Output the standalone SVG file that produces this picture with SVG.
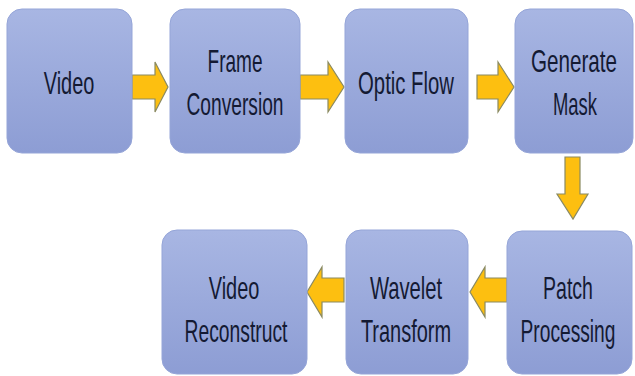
<svg xmlns="http://www.w3.org/2000/svg" width="635" height="376" viewBox="0 0 635 376">
<defs>
<linearGradient id="boxg" x1="0" y1="0" x2="0" y2="1">
<stop offset="0" stop-color="#a8b6e3"/>
<stop offset="1" stop-color="#8d9dd4"/>
</linearGradient>
<style>
.box{fill:url(#boxg);stroke:#95a5d8;stroke-width:1}
.lbl{font-family:"Liberation Sans",Arial,sans-serif;font-size:32px;fill:#141a33;text-anchor:middle}
.arr{fill:#fdbf10;stroke:#8a8a62;stroke-width:1.2;stroke-linejoin:miter}
</style>
</defs>
<rect width="635" height="376" fill="#ffffff"/>
<g id="connectors">
<polygon class="arr" points="132,75 155,75 155,62 168,87 155,112 155,99 132,99"/>
<polygon class="arr" points="300,75 328,75 328,62 344,87 328,112 328,99 300,99"/>
<polygon class="arr" points="477,75 498,75 498,62 514,87 498,112 498,99 477,99"/>
<polygon class="arr" points="565,157 580,157 580,194 588,194 573,219 557,194 565,194"/>
<polygon class="arr" points="507,278 485,278 485,267 470,292 485,317 485,302 507,302"/>
<polygon class="arr" points="344,278 322,278 322,267 307,292 322,317 322,302 344,302"/>
</g>
<g id="node-video">
<rect class="box" x="7" y="9" width="125" height="144" rx="15"/>
<text class="lbl" transform="translate(69,94) scale(0.623,1)">Video</text>
</g>
<g id="node-frame-conversion">
<rect class="box" x="170" y="9" width="130" height="144" rx="15"/>
<text class="lbl" transform="translate(235,72) scale(0.595,1)">Frame</text>
<text class="lbl" transform="translate(235,115) scale(0.6,1)">Conversion</text>
</g>
<g id="node-optic-flow">
<rect class="box" x="345" y="9" width="123" height="144" rx="15"/>
<text class="lbl" transform="translate(406,94) scale(0.635,1)">Optic Flow</text>
</g>
<g id="node-generate-mask">
<rect class="box" x="515" y="9" width="118" height="144" rx="15"/>
<text class="lbl" transform="translate(574,72) scale(0.645,1)">Generate</text>
<text class="lbl" transform="translate(575,115) scale(0.576,1)">Mask</text>
</g>
<g id="node-patch-processing">
<rect class="box" x="507" y="231" width="125" height="143" rx="15"/>
<text class="lbl" transform="translate(568,299) scale(0.611,1)">Patch</text>
<text class="lbl" transform="translate(568,342) scale(0.6,1)">Processing</text>
</g>
<g id="node-wavelet-transform">
<rect class="box" x="346" y="230" width="122" height="144" rx="15"/>
<text class="lbl" transform="translate(406,299) scale(0.632,1)">Wavelet</text>
<text class="lbl" transform="translate(406,342) scale(0.624,1)">Transform</text>
</g>
<g id="node-video-reconstruct">
<rect class="box" x="162" y="230" width="145" height="144" rx="15"/>
<text class="lbl" transform="translate(234,299) scale(0.623,1)">Video</text>
<text class="lbl" transform="translate(236,342) scale(0.603,1)">Reconstruct</text>
</g>
</svg>
